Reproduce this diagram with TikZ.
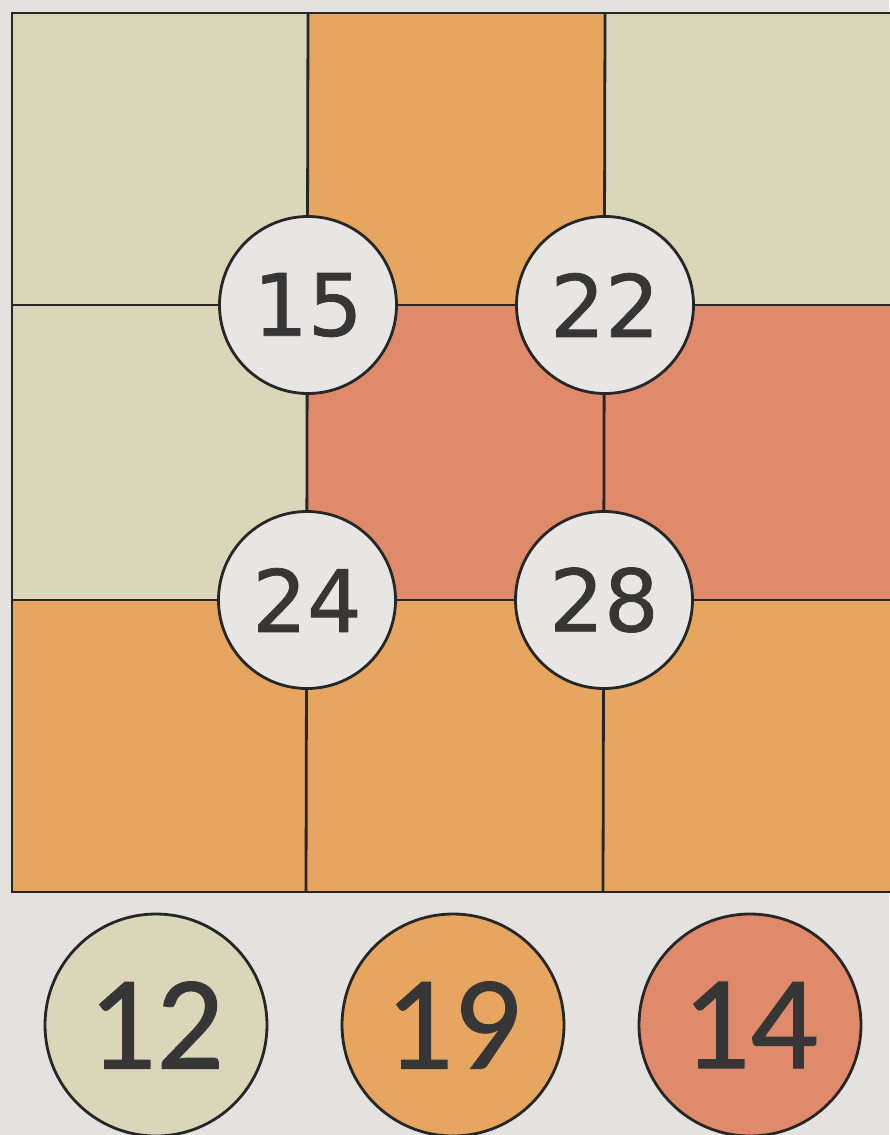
\documentclass[tikz,border=0pt]{standalone}
\usepackage{fontspec}
\newfontfamily\numfont[FakeBold=0.9]{DejaVu Sans}
\newfontfamily\bigfont[FakeBold=0.8]{Carlito}
\definecolor{paper}{HTML}{E3E2DE}
\definecolor{beige}{HTML}{D9D6B9}
\definecolor{orangec}{HTML}{E6A660}
\definecolor{redc}{HTML}{DF8A6B}
\definecolor{disc}{HTML}{E7E6E4}
\definecolor{ink}{HTML}{363636}
\tikzset{
  gridline/.style={line width=2.8pt, draw=black!85},
  vtx/.style={circle, draw=black!85, line width=2.8pt, fill=disc, minimum size=177pt, inner sep=0pt, text=ink, font=\numfont\fontsize{86}{86}\selectfont},
  key/.style={circle, draw=black!85, line width=2.8pt, minimum size=222pt, inner sep=0pt, text=ink, font=\bigfont\fontsize{134}{134}\selectfont}
}
\begin{document}
\begin{tikzpicture}[x=1pt,y=-1pt]
\useasboundingbox (0,0) rectangle (889,1135);
\fill[paper] (0,0) rectangle (889,1135);
% cells
\fill[beige]   (12,13) rectangle (308,305);
\fill[orangec] (308,13) rectangle (605,305);
\fill[beige]   (605,13) rectangle (895,305);
\fill[beige]   (12,305) rectangle (308,600);
\fill[redc]    (308,305) rectangle (605,600);
\fill[redc]    (605,305) rectangle (895,600);
\fill[orangec] (12,600) rectangle (308,892);
\fill[orangec] (308,600) rectangle (605,892);
\fill[orangec] (605,600) rectangle (895,892);
% grid lines
\draw[gridline] (900,13) -- (12,13) -- (12,892) -- (900,892);
\draw[gridline] (308,13) -- (306,892);
\draw[gridline] (605,13) -- (603,892);
\draw[gridline] (12,305) -- (900,305);
\draw[gridline] (12,600) -- (900,600);
% vertex discs
\node[vtx] (a) at (308,305) {15};
\node[vtx] (b) at (605,305) {22};
\node[vtx] (c) at (307,600) {24};
\node[vtx] (d) at (604,600) {28};
% key discs
\node[key, fill=beige]   (k1) at (156,1025) {12};
\node[key, fill=orangec] (k2) at (453,1025) {19};
\node[key, fill=redc]    (k3) at (750,1025) {14};
\end{tikzpicture}
\end{document}
